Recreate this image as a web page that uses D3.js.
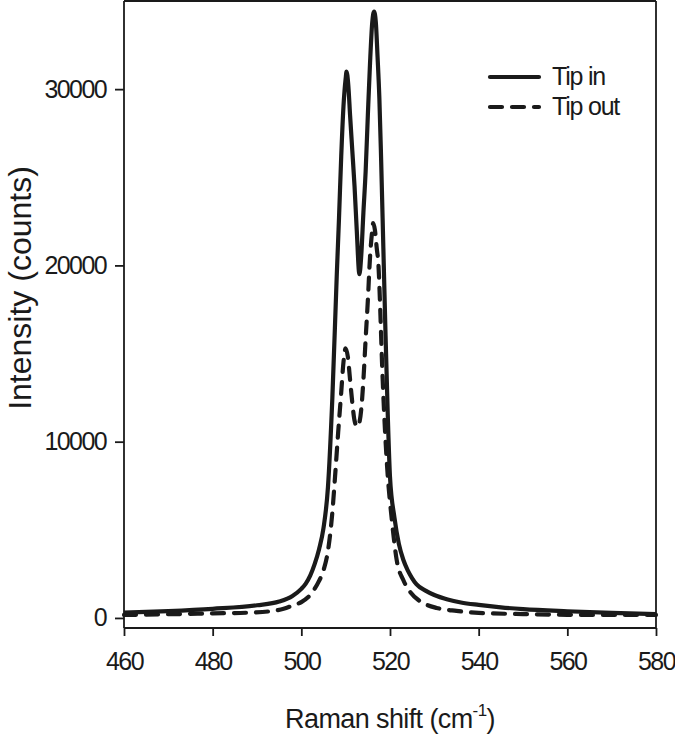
<!DOCTYPE html>
<html>
<head>
<meta charset="utf-8">
<script src="https://cdn.jsdelivr.net/npm/d3@7"></script>
<style>
  html, body { margin: 0; padding: 0; background: #fff; }
  svg { display: block; }
  text { font-family: "Liberation Sans", Arial, sans-serif; fill: #1a1a1a; }
</style>
</head>
<body>
<svg id="chart" width="675" height="735"></svg>
<script>
// ---- data ----
const shiftIn = [460, 470, 480, 490, 495, 498, 500, 501, 502, 503, 504, 505, 506, 507, 508, 508.5, 509, 509.5, 510, 510.2, 510.6, 511, 511.5, 512, 512.5, 513.1, 513.5, 514, 514.5, 515, 515.5, 516, 516.4, 516.8, 517.2, 517.6, 518, 518.5, 519, 519.5, 520, 521, 522, 523, 524, 525, 526, 528, 530, 533, 536, 540, 545, 550, 560, 570, 580];
const tipIn   = [300, 390, 520, 720, 930, 1250, 1650, 1950, 2400, 3050, 3900, 5100, 7400, 12500, 19500, 22700, 26200, 29000, 30600, 31000, 30200, 28500, 26500, 24500, 22000, 19500, 20500, 23000, 25300, 28500, 31500, 33800, 34400, 33800, 31800, 29500, 26000, 21000, 16000, 11500, 8000, 5700, 4200, 3300, 2700, 2250, 1900, 1550, 1300, 1050, 880, 740, 600, 500, 380, 290, 220];

const shiftOut = [460, 470, 480, 488, 493, 496, 498, 500, 502, 503, 504, 505, 506, 507, 507.6, 508.3, 509, 509.5, 510, 510.5, 511, 511.5, 512, 512.6, 513, 513.5, 514, 514.5, 515, 515.5, 516, 516.2, 516.6, 517, 517.4, 517.8, 518.2, 518.8, 519.4, 520.4, 521.5, 523, 524.5, 526.4, 528, 530.5, 535, 540, 550, 560, 570, 580];
const tipOut   = [170, 210, 260, 300, 380, 520, 700, 900, 1300, 1650, 2100, 2700, 3800, 6000, 8000, 10500, 12800, 14500, 15300, 14800, 13500, 12200, 11200, 10850, 11000, 11800, 13500, 15800, 18000, 20500, 22000, 22400, 22000, 21000, 20000, 17500, 14500, 11000, 8400, 5600, 3300, 2150, 1500, 1020, 780, 570, 400, 290, 220, 180, 170, 170];

const xTicks = [460, 480, 500, 520, 540, 560, 580];
const yTicks = [0, 10000, 20000, 30000];
const seriesNames = ["Tip in", "Tip out"];

// ---- layout ----
const svg = d3.select("#chart");
const pL = 124, pR = 656, pT = 1, pB = 628;
const x = d3.scaleLinear().domain([460, 580]).range([pL, pR]);
const y = d3.scaleLinear().domain([-570, 35000]).range([pB, pT]);
const ink = "#1a1a1a";

// frame (top and right)
svg.append("line").attr("x1", pL).attr("x2", pR).attr("y1", pT).attr("y2", pT)
  .attr("stroke", ink).attr("stroke-width", 1.8);
svg.append("line").attr("x1", pR).attr("x2", pR).attr("y1", pT).attr("y2", pB)
  .attr("stroke", ink).attr("stroke-width", 1.8);

// axes
const xAxis = svg.append("g").attr("transform", `translate(0,${pB})`)
  .call(d3.axisBottom(x).tickValues(xTicks).tickSize(8).tickSizeOuter(0).tickPadding(16).tickFormat(d3.format("d")));
const yAxis = svg.append("g").attr("transform", `translate(${pL},0)`)
  .call(d3.axisLeft(y).tickValues(yTicks).tickSize(9).tickSizeOuter(0).tickPadding(9).tickFormat(d3.format("d")));
xAxis.select(".domain").attr("d", `M${pL},0H${pR}`);
yAxis.select(".domain").attr("d", `M0,${pT}V${pB}`);
[xAxis, yAxis].forEach(g => {
  g.selectAll(".domain, .tick line").attr("stroke", ink).attr("stroke-width", 1.8);
  g.selectAll(".tick text").attr("font-size", 25).attr("letter-spacing", -1.6)
    .attr("fill", ink).style("font-family", "'Liberation Sans', Arial, sans-serif");
});
xAxis.selectAll(".tick text").attr("dy", "0.71em");

// lines
const line = d3.line().x(d => x(d[0])).y(d => y(d[1])).curve(d3.curveMonotoneX);
const dataIn = shiftIn.map((s, i) => [s, tipIn[i]]);
const dataOut = shiftOut.map((s, i) => [s, tipOut[i]]);

svg.append("path").datum(dataOut).attr("d", line)
  .attr("fill", "none").attr("stroke", ink).attr("stroke-width", 4.2)
  .attr("stroke-dasharray", "12,10").attr("stroke-linecap", "round");
svg.append("path").datum(dataIn).attr("d", line)
  .attr("fill", "none").attr("stroke", ink).attr("stroke-width", 4.2)
  .attr("stroke-linejoin", "round");

// legend
const leg = svg.append("g");
const legY = [77, 107];
seriesNames.forEach((name, i) => {
  const l = leg.append("line").attr("x1", 490).attr("x2", 539).attr("y1", legY[i]).attr("y2", legY[i])
    .attr("stroke", ink).attr("stroke-width", 4.2).attr("stroke-linecap", "round");
  if (i === 1) l.attr("stroke-dasharray", "12,10");
  leg.append("text").attr("x", 552).attr("y", legY[i] + 8).attr("font-size", 25)
    .attr("letter-spacing", -1.2).text(name);
});

// axis titles
const xt = svg.append("text").attr("x", 390).attr("y", 728).attr("text-anchor", "middle")
  .attr("font-size", 27).attr("letter-spacing", -0.6);
xt.append("tspan").text("Raman shift (cm");
xt.append("tspan").attr("font-size", 17).attr("dy", -12).text("-1");
xt.append("tspan").attr("dy", 12).text(")");

svg.append("text").attr("transform", "translate(31,288) rotate(-90)")
  .attr("text-anchor", "middle").attr("font-size", 32).attr("letter-spacing", 0)
  .text("Intensity (counts)");
</script>
</body>
</html>
